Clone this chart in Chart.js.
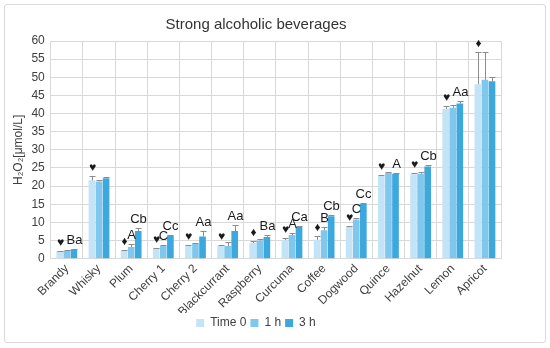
<!DOCTYPE html>
<html>
<head>
<meta charset="utf-8">
<script src="https://cdn.jsdelivr.net/npm/chart.js@4"></script>
<style>
  html, body { margin: 0; padding: 0; background: #fff; }
  #box {
    position: absolute; left: 4px; top: 4px; width: 540px; height: 337px;
    border: 1px solid #d9d9d9; border-radius: 3px; background: #fff;
  }
  #wrap { position: absolute; left: 0; top: 0; width: 540px; height: 337px; }
</style>
</head>
<body>
<div id="box"><div id="wrap"><canvas id="chart"></canvas></div></div>
<script>
const categories = ['Brandy', 'Whisky', 'Plum', 'Cherry 1', 'Cherry 2', 'Blackcurrant', 'Raspberry',
    'Curcuma', 'Coffee', 'Dogwood', 'Quince', 'Hazelnut', 'Lemon', 'Apricot'];

const time0 = [2.1, 21.6, 2.2, 2.8, 3.5, 3.5, 4.3, 5.1, 5.2, 8.7, 22.8, 23.3, 41.3, 48.1];
const hour1 = [2.2, 21.3, 3.2, 3.5, 4.1, 3.5, 5.0, 6.5, 7.8, 10.8, 23.6, 23.4, 41.6, 49.3];
const hour3 = [2.5, 22.2, 7.6, 6.4, 6.1, 7.6, 6.0, 8.7, 11.7, 15.1, 23.4, 25.4, 42.8, 48.9];

const err0 = [0.1, 1.1, 0.3, 0.2, 0.2, 0.2, 0.5, 0.6, 1.0, 0.3, 0.3, 0.2, 0.7, 9.0];
const err1 = [0.1, 0.3, 0.9, 0.2, 0.3, 1.2, 0.3, 0.7, 0.9, 0.3, 0.2, 0.5, 0.7, 7.8];
const err3 = [0.2, 0.3, 0.9, 0.1, 1.5, 1.8, 0.5, 0.4, 0.3, 0.2, 0.2, 0.4, 0.7, 1.2];

const marks0 = ['♥', '♥', '♦', '♥', '♥', '♥', '♦', '♥', '♦', '♥', '♥', '♥', '♥', '♦'];
const marks1 = ['', '', 'A', 'C', '', '', '', 'A', 'B', 'C', '', '', '', ''];
const marks3 = ['Ba', '', 'Cb', 'Cc', 'Aa', 'Aa', 'Ba', 'Ca', 'Cb', 'Cc', 'A', 'Cb', 'Aa', ''];

const yTicks = [0, 5, 10, 15, 20, 25, 30, 35, 40, 45, 50, 55, 60];

const errors = [err0, err1, err3];
const marks = [marks0, marks1, marks3];
const FONT = '"Liberation Sans", Arial, sans-serif';

const errorBars = {
    id: 'errorBars',
    afterDatasetsDraw(chart) {
        const ctx = chart.ctx;
        const y = chart.scales.y;
        ctx.save();
        chart.data.datasets.forEach((ds, di) => {
            const meta = chart.getDatasetMeta(di);
            meta.data.forEach((bar, i) => {
                const v = ds.data[i];
                const top = Math.round(y.getPixelForValue(v + errors[di][i])) + 0.5;
                const x = Math.round(bar.x) + 0.5;
                ctx.strokeStyle = '#8c8c8c';
                ctx.lineWidth = 1;
                ctx.beginPath();
                ctx.moveTo(x, bar.y);
                ctx.lineTo(x, top);
                ctx.moveTo(x - 3, top);
                ctx.lineTo(x + 3, top);
                ctx.stroke();
                const m = marks[di][i];
                if (m) {
                    ctx.fillStyle = '#1a1a1a';
                    ctx.textAlign = 'center';
                    ctx.textBaseline = 'bottom';
                    ctx.font = (di === 0 ? '12px ' : '13px ') + FONT;
                    ctx.fillText(m, x, top - 3);
                }
            });
        });
        ctx.restore();
    }
};

new Chart(document.getElementById('chart').getContext('2d'), {
    type: 'bar',
    data: {
        labels: categories,
        datasets: [
            { label: 'Time 0', data: time0, backgroundColor: '#c3e3f6' },
            { label: '1 h', data: hour1, backgroundColor: '#80c7ed' },
            { label: '3 h', data: hour3, backgroundColor: '#3ca8de' }
        ]
    },
    options: {
        responsive: true,
        maintainAspectRatio: false,
        animation: false,
        devicePixelRatio: 1,
        layout: { padding: { left: 6, right: 44, top: 5, bottom: 3 } },
        datasets: { bar: { categoryPercentage: 0.66, barPercentage: 0.94 } },
        plugins: {
            title: {
                display: true,
                text: 'Strong alcoholic beverages',
                color: '#333',
                font: { family: FONT, size: 15, weight: 'normal' },
                padding: { top: 6, bottom: 7 }
            },
            legend: {
                position: 'bottom',
                labels: {
                    boxWidth: 8, boxHeight: 8, padding: 4,
                    color: '#404040',
                    font: { family: FONT, size: 12 }
                }
            },
            tooltip: { enabled: false }
        },
        scales: {
            x: {
                grid: { color: '#d9d9d9', drawTicks: false },
                border: { color: '#d9d9d9' },
                afterFit(axis) { axis.height -= 9; },
                ticks: {
                    color: '#404040', maxRotation: 45, minRotation: 45, padding: 3,
                    font: { family: FONT, size: 12 }
                }
            },
            y: {
                min: 0, max: 60,
                afterBuildTicks(axis) { axis.ticks = yTicks.map(v => ({ value: v })); },
                grid: { color: '#d9d9d9', drawTicks: false },
                border: { display: false },
                ticks: {
                    color: '#404040', padding: 6, autoSkip: false,
                    font: { family: FONT, size: 12 }
                },
                title: {
                    display: true,
                    text: 'H₂O₂[μmol/L]',
                    color: '#404040',
                    font: { family: FONT, size: 12 },
                    padding: { top: 0, bottom: 0 }
                }
            }
        }
    },
    plugins: [errorBars]
});
</script>
</body>
</html>
